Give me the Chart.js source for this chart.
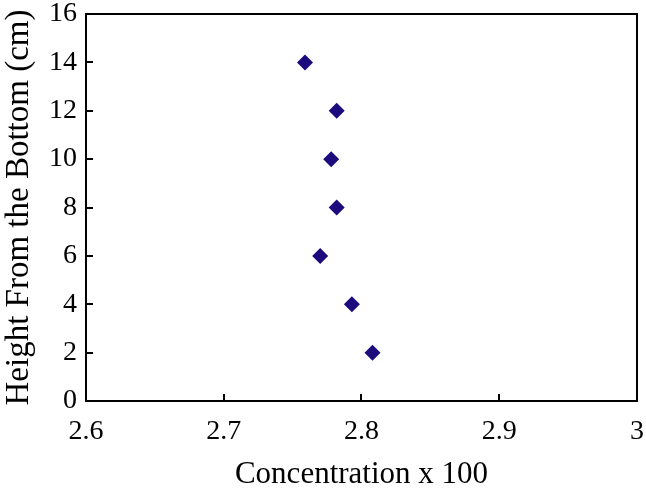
<!DOCTYPE html>
<html>
<head>
<meta charset="utf-8">
<script src="https://cdn.jsdelivr.net/npm/chart.js@4.4.1/dist/chart.umd.min.js"></script>
<style>
    html, body { margin: 0; padding: 0; background: #fff; }
    #wrap { width: 646px; height: 490px; }
    .probe { font-family: 'Liberation Serif'; position: absolute; left: -9999px; }
</style>
</head>
<body>
<span class="probe">0123456789 Height</span>
<div id="wrap"><canvas id="chart" width="646" height="490"></canvas></div>
<script>
const concentration = [2.759, 2.782, 2.778, 2.782, 2.770, 2.793, 2.808];
const height        = [14, 12, 10, 8, 6, 4, 2];
const xTicks        = [2.6, 2.7, 2.8, 2.9, 3];
const yTicks        = [0, 2, 4, 6, 8, 10, 12, 14, 16];

const FONT = "'Liberation Serif', 'Times New Roman', Times, serif";
const INK  = '#000';

Chart.defaults.font.family = FONT;
Chart.defaults.color = INK;

// box around the plot + inward tick marks, Excel style
const frame = {
    id: 'frame',
    afterDraw(chart) {
        const { ctx, chartArea: a, scales: { x, y } } = chart;
        ctx.save();
        ctx.strokeStyle = INK;
        ctx.lineWidth = 2;
        ctx.strokeRect(a.left, a.top, a.right - a.left, a.bottom - a.top);
        ctx.beginPath();
        yTicks.slice(1, -1).forEach(v => {
            const py = Math.round(y.getPixelForValue(v));
            ctx.moveTo(a.left, py);
            ctx.lineTo(a.left + 7, py);
        });
        xTicks.slice(1, -1).forEach(v => {
            const px = Math.round(x.getPixelForValue(v));
            ctx.moveTo(px, a.bottom);
            ctx.lineTo(px, a.bottom - 7);
        });
        ctx.stroke();
        ctx.restore();
    }
};

// keep the plot box where it is, labels may hang over the edges
const noOverhang = s => {
    s.paddingLeft = s.paddingRight = s.paddingTop = s.paddingBottom = 0;
};

function draw() {
    new Chart(document.getElementById('chart').getContext('2d'), {
        type: 'scatter',
        data: {
            datasets: [{
                label: 'Height',
                data: concentration.map((c, i) => ({ x: c, y: height[i] })),
                pointStyle: 'rectRot',
                pointRadius: 8,
                pointHoverRadius: 8,
                backgroundColor: '#1b0b7d',
                borderColor: '#1b0b7d',
                borderWidth: 0,
            }]
        },
        options: {
            responsive: false,
            animation: false,
            layout: { padding: { left: 0, top: 14, right: 9, bottom: 0 } },
            plugins: {
                legend: { display: false },
                tooltip: { enabled: false },
            },
            scales: {
                x: {
                    type: 'linear',
                    min: 2.6, max: 3,
                    afterBuildTicks: s => { s.ticks = xTicks.map(v => ({ value: v })); },
                    afterFit: s => { s.height = 89; noOverhang(s); },
                    ticks: {
                        color: INK, padding: 14, maxRotation: 0,
                        font: { size: 28 },
                        callback: v => String(v),
                    },
                    grid: { display: false, drawTicks: false },
                    border: { display: false },
                    title: {
                        display: true, text: 'Concentration x 100', color: INK,
                        font: { size: 31 }, padding: { top: 0, bottom: -3 },
                    },
                },
                y: {
                    type: 'linear',
                    min: 0, max: 16,
                    afterBuildTicks: s => { s.ticks = yTicks.map(v => ({ value: v })); },
                    afterFit: s => { s.width = 86; noOverhang(s); },
                    ticks: {
                        color: INK, padding: 9,
                        font: { size: 28 },
                        callback: v => String(v),
                    },
                    grid: { display: false, drawTicks: false },
                    border: { display: false },
                    title: {
                        display: true, text: 'Height From the Bottom (cm)', color: INK,
                        font: { size: 33 }, padding: { top: 0, bottom: 0 },
                    },
                }
            }
        },
        plugins: [frame]
    });
}

Promise.all([
    document.fonts.load("28px 'Liberation Serif'"),
    document.fonts.load("33px 'Liberation Serif'"),
]).then(draw, draw);
</script>
</body>
</html>
